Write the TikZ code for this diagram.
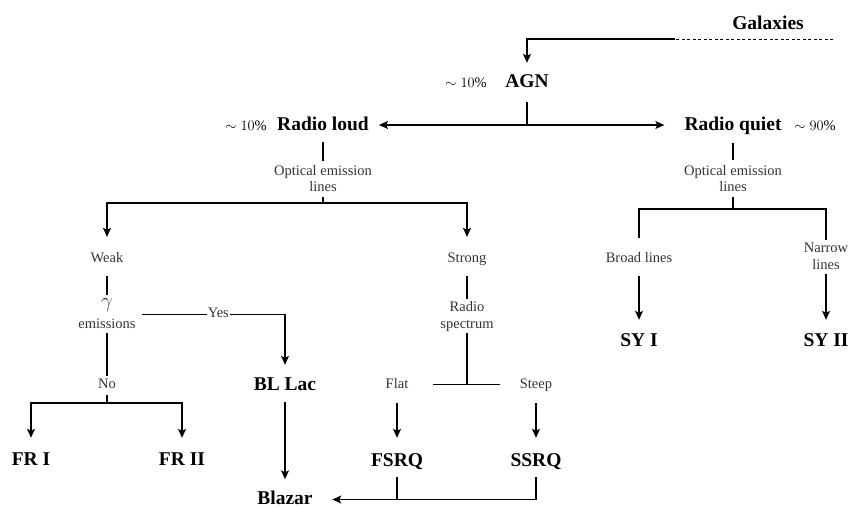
\documentclass[tikz,border=0pt]{standalone}
\usepackage{fontspec}
\setmainfont{Liberation Serif}
\usetikzlibrary{arrows.meta}
\newcommand{\mlines}[1]{\begin{tabular}[t]{@{}c@{}}#1\end{tabular}}
\definecolor{txtgray}{HTML}{333333}
\begin{document}
\begin{tikzpicture}[x=1pt,y=-1pt,
 big/.style={anchor=base, font=\fontsize{19.5}{23}\selectfont\bfseries, text height=13pt, text depth=0pt, inner sep=0pt},
 sm/.style={anchor=base, font=\fontsize{14.5}{17}\selectfont, text=txtgray, inner sep=0pt, text height=11.9pt, text depth=5.1pt},
 smml/.style={anchor=base, font=\fontsize{14.5}{17}\selectfont, text=txtgray, inner sep=0pt},
 pct/.style={anchor=base, font=\fontsize{14.5}{17}\selectfont, inner sep=0pt},
 ln/.style={draw=black, line width=1.2pt},
 arr/.style={ln, -{Stealth[length=9pt,width=8pt,inset=2pt]}},
]
\useasboundingbox (0,0) rectangle (848,508);
% nodes
\node[big] (gal) at (768,30) {Galaxies};
\node[big] (agn) at (527,88) {AGN};
\node[pct] (agnp) at (466,88) {$\sim 10\%$};
\node[big] (rl) at (323,131) {Radio loud};
\node[pct] (rlp) at (246,131) {$\sim 10\%$};
\node[big] (rq) at (733,131) {Radio quiet};
\node[pct] (rqp) at (815,131) {$\sim 90\%$};
\node[smml] (opt1) at (323,175) {\mlines{Optical emission\\lines}};
\node[smml] (opt2) at (733,175) {\mlines{Optical emission\\lines}};
\node[sm] (weak) at (107,262) {Weak};
\node[sm] (strong) at (467,262) {Strong};
\node[smml] (gam) at (107,307.5) {\mlines{{\fontsize{22}{24}\selectfont$\gamma$}\\[3.5pt]emissions}};
\node[sm] (no) at (107,388) {No};
\node[sm, anchor=center, fill=white, inner xsep=1pt] (yes) at ([xshift=82.5pt]gam.east) {Yes};
\node[big] (bllac) at (285,390) {BL Lac};
\node[big] (fr1) at (31,465) {FR I};
\node[big] (fr2) at (182,465) {FR II};
\node[big, text depth=3pt] (blazar) at (285,504.5) {Blazar};
\node[smml] (spec) at (467,311) {\mlines{Radio\\spectrum}};
\node[sm] (flat) at (397,388) {Flat};
\node[sm] (steep) at (536,388) {Steep};
\node[big] (fsrq) at (397,466) {FSRQ};
\node[big] (ssrq) at (536,466) {SSRQ};
\node[sm] (broad) at (639,262) {Broad lines};
\node[smml] (narrow) at (826,252) {\mlines{Narrow\\lines}};
\node[big] (sy1) at (639,346) {SY I};
\node[big] (sy2) at (826,346) {SY II};
% junctions
\coordinate (gdash) at (833,39);
\coordinate (gsolid) at (675,39);
\coordinate (jagn) at (527,125);
\coordinate (jrl) at (323,203);
\coordinate (jrq) at (733,209);
\coordinate (jno) at (107,403);
% connectors
\draw[ln, line width=0.9pt, dash pattern=on 3pt off 2.5pt] (gdash) -- (gsolid);
\draw[arr, shorten >=12pt] (gsolid) -| (agn.north);
\draw[ln, shorten <=14pt] (agn.south) -- (jagn);
\draw[arr, shorten >=10pt] (jagn) -- (jagn -| rl.east);
\draw[arr, shorten >=20pt] (jagn) -- (jagn -| rq.west);
\draw[ln, shorten <=11pt, shorten >=2pt] (rl.south) -- (opt1.north);
\draw[ln] (opt1.south) -- (jrl);
\draw[arr, shorten >=13pt] (jrl) -| (weak.north);
\draw[arr, shorten >=13pt] (jrl) -| (strong.north);
\draw[ln, shorten <=9pt] (weak.south) -- (gam.north);
\draw[ln, shorten <=6.5pt] (gam.east) -- (yes.west);
\draw[arr, shorten >=12pt] (yes.east) -| (bllac.north);
\draw[ln] (gam.south) -- (no.north);
\draw[ln, shorten <=2pt] (no.south) -- (jno);
\draw[arr, shorten >=14pt] (jno) -| (fr1.north);
\draw[arr, shorten >=14pt] (jno) -| (fr2.north);
\draw[arr, shorten <=12pt, shorten >=12pt] (bllac.south) -- (blazar.north);
\draw[ln, shorten <=9pt] (strong.south) -- (spec.north);
\draw[ln] (spec.south) -- (spec.south |- flat.east);
\draw[ln, shorten <=24.7pt, shorten >=20pt] (flat.east) -- (steep.west);
\draw[arr, shorten <=10pt, shorten >=15pt] (flat.south) -- (fsrq.north);
\draw[arr, shorten <=10pt, shorten >=15pt] (steep.south) -- (ssrq.north);
\draw[ln, shorten <=11pt] (fsrq.south) -- (fsrq.south |- blazar.east);
\draw[arr, shorten <=11pt, shorten >=19.5pt] (ssrq.south) |- (blazar.east);
\draw[ln, shorten <=12pt, shorten >=3pt] (rq.south) -- (opt2.north);
\draw[ln] (opt2.south) -- (jrq);
\draw[ln, shorten >=12pt] (jrq) -| (broad.north);
\draw[ln] (jrq) -| (narrow.north);
\draw[arr, shorten <=9pt, shorten >=13pt] (broad.south) -- (sy1.north);
\draw[arr, shorten >=13pt] (narrow.south) -- (sy2.north);
\end{tikzpicture}
\end{document}
